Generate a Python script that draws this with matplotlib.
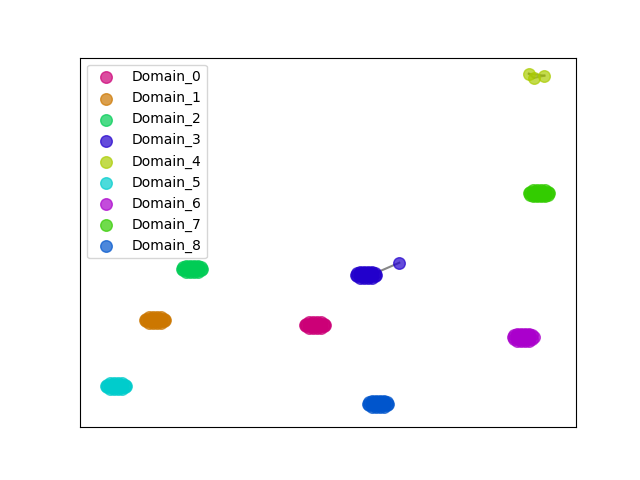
import matplotlib
matplotlib.use('Agg')
import matplotlib.pyplot as plt

# Embedding coordinates per domain
domain_names = ['Domain_0', 'Domain_1', 'Domain_2', 'Domain_3', 'Domain_4',
                'Domain_5', 'Domain_6', 'Domain_7', 'Domain_8']
domain_colors = ['#cc0077', '#cc7700', '#00cc55', '#2200cc', '#aacc00',
                 '#00cccc', '#aa00cc', '#33cc00', '#0055cc']

x0 = [-3.05, -2.4, -1.8, -1.15,
      -3.55, -2.95, -2.35, -1.75, -1.2, -0.65,
      -3.75, -3.1, -2.45, -1.8, -1.15, -0.45,
      -3.55, -2.95, -2.35, -1.75, -1.2, -0.65,
      -3.05, -2.4, -1.8, -1.15]
y0 = [-17.25, -17.25, -17.25, -17.25,
      -17.6, -17.6, -17.6, -17.6, -17.6, -17.6,
      -17.9, -17.9, -17.9, -17.9, -17.9, -17.9,
      -18.2, -18.2, -18.2, -18.2, -18.2, -18.2,
      -18.55, -18.55, -18.55, -18.55]
x1 = [-28.85, -28.2, -27.6, -26.95,
      -29.35, -28.75, -28.15, -27.55, -27.0, -26.45,
      -29.55, -28.9, -28.25, -27.6, -26.95, -26.25,
      -29.35, -28.75, -28.15, -27.55, -27.0, -26.45,
      -28.85, -28.2, -27.6, -26.95]
y1 = [-16.15, -16.15, -16.15, -16.15,
      -16.5, -16.5, -16.5, -16.5, -16.5, -16.5,
      -16.8, -16.8, -16.8, -16.8, -16.8, -16.8,
      -17.1, -17.1, -17.1, -17.1, -17.1, -17.1,
      -17.45, -17.45, -17.45, -17.45]
x2 = [-22.85, -22.2, -21.6, -20.95,
      -23.35, -22.75, -22.15, -21.55, -21.0, -20.45,
      -23.55, -22.9, -22.25, -21.6, -20.95, -20.25,
      -23.35, -22.75, -22.15, -21.55, -21.0, -20.45,
      -22.85, -22.2, -21.6, -20.95]
y2 = [-5.05, -5.05, -5.05, -5.05,
      -5.4, -5.4, -5.4, -5.4, -5.4, -5.4,
      -5.7, -5.7, -5.7, -5.7, -5.7, -5.7,
      -6.0, -6.0, -6.0, -6.0, -6.0, -6.0,
      -6.35, -6.35, -6.35, -6.35]
x3 = [5.15, 5.8, 6.4, 7.05,
      4.65, 5.25, 5.85, 6.45, 7.0, 7.55,
      4.45, 5.1, 5.75, 6.4, 7.05, 7.75,
      4.65, 5.25, 5.85, 6.45, 7.0, 7.55,
      5.15, 5.8, 6.4, 7.05,
      11.5]
y3 = [-6.35, -6.35, -6.35, -6.35,
      -6.7, -6.7, -6.7, -6.7, -6.7, -6.7,
      -7.0, -7.0, -7.0, -7.0, -7.0, -7.0,
      -7.3, -7.3, -7.3, -7.3, -7.3, -7.3,
      -7.65, -7.65, -7.65, -7.65,
      -4.4]
x4 = [32.4, 33.2, 34.9]
y4 = [36.5, 35.6, 36.1]
x5 = [-35.15, -34.5, -33.9, -33.25,
      -35.65, -35.05, -34.45, -33.85, -33.3, -32.75,
      -35.85, -35.2, -34.55, -33.9, -33.25, -32.55,
      -35.65, -35.05, -34.45, -33.85, -33.3, -32.75,
      -35.15, -34.5, -33.9, -33.25]
y5 = [-30.45, -30.45, -30.45, -30.45,
      -30.8, -30.8, -30.8, -30.8, -30.8, -30.8,
      -31.1, -31.1, -31.1, -31.1, -31.1, -31.1,
      -31.4, -31.4, -31.4, -31.4, -31.4, -31.4,
      -31.75, -31.75, -31.75, -31.75]
x6 = [30.55, 31.2, 31.8, 32.45,
      30.05, 30.65, 31.25, 31.85, 32.4, 32.95,
      29.85, 30.5, 31.15, 31.8, 32.45, 33.15,
      30.05, 30.65, 31.25, 31.85, 32.4, 32.95,
      30.55, 31.2, 31.8, 32.45]
y6 = [-19.75, -19.75, -19.75, -19.75,
      -20.15, -20.15, -20.15, -20.15, -20.15, -20.15,
      -20.5, -20.5, -20.5, -20.5, -20.5, -20.5,
      -20.85, -20.85, -20.85, -20.85, -20.85, -20.85,
      -21.25, -21.25, -21.25, -21.25]
x7 = [33.05, 33.7, 34.3, 34.95,
      32.55, 33.15, 33.75, 34.35, 34.9, 35.45,
      32.35, 33.0, 33.65, 34.3, 34.95, 35.65,
      32.55, 33.15, 33.75, 34.35, 34.9, 35.45,
      33.05, 33.7, 34.3, 34.95]
y7 = [11.25, 11.25, 11.25, 11.25,
      10.9, 10.9, 10.9, 10.9, 10.9, 10.9,
      10.6, 10.6, 10.6, 10.6, 10.6, 10.6,
      10.3, 10.3, 10.3, 10.3, 10.3, 10.3,
      9.95, 9.95, 9.95, 9.95]
x8 = [7.15, 7.8, 8.4, 9.05,
      6.65, 7.25, 7.85, 8.45, 9.0, 9.55,
      6.45, 7.1, 7.75, 8.4, 9.05, 9.75,
      6.65, 7.25, 7.85, 8.45, 9.0, 9.55,
      7.15, 7.8, 8.4, 9.05]
y8 = [-34.25, -34.25, -34.25, -34.25,
      -34.6, -34.6, -34.6, -34.6, -34.6, -34.6,
      -34.9, -34.9, -34.9, -34.9, -34.9, -34.9,
      -35.2, -35.2, -35.2, -35.2, -35.2, -35.2,
      -35.55, -35.55, -35.55, -35.55]

xs = [x0, x1, x2, x3, x4, x5, x6, x7, x8]
ys = [y0, y1, y2, y3, y4, y5, y6, y7, y8]

# links drawn between points: (domain index, point a, point b)
links = [(3, 9, 26), (4, 0, 2), (4, 0, 1), (4, 1, 2)]

fig, ax = plt.subplots(figsize=(6.4, 4.8), dpi=100)

for d, a, b in links:
    ax.plot([xs[d][a], xs[d][b]], [ys[d][a], ys[d][b]], color='#555555',
            alpha=0.7, linewidth=1.5, zorder=1)

for name, color, x, y in zip(domain_names, domain_colors, xs, ys):
    ax.scatter(x, y, s=70, c=color, alpha=0.7, label=name, zorder=2)

ax.set_xlim(-40, 40)
ax.set_ylim(-40, 40)
ax.set_xticks([])
ax.set_yticks([])
ax.legend(loc='upper left')

plt.savefig('out.png', dpi=100)
